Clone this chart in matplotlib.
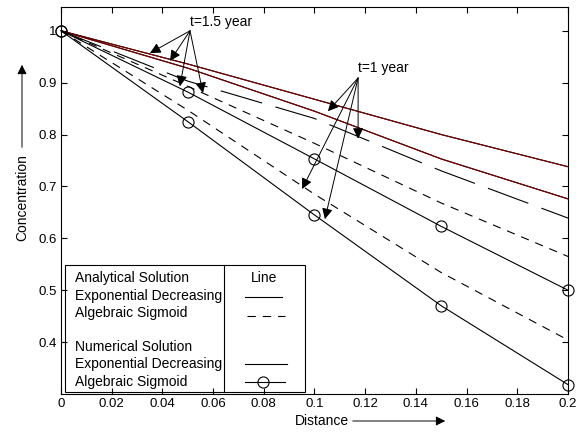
import matplotlib.pyplot as plt
from matplotlib.patches import Rectangle, FancyArrowPatch

plt.rcParams['font.family'] = ['Liberation Sans', 'DejaVu Sans']
plt.rcParams['lines.scale_dashes'] = False

# values at x = 0, 0.05, 0.1, 0.15, 0.2
distance = [0.0, 0.05, 0.10, 0.15, 0.20]
exp_analytic_a = [1.0, 0.936, 0.868, 0.800, 0.738]
exp_analytic_b = [1.0, 0.928, 0.845, 0.753, 0.676]
long_dash = [1.0, 0.903, 0.831, 0.730, 0.639]
sig_analytic_a = [1.0, 0.893, 0.783, 0.668, 0.565]
sig_numeric_a = [1.0, 0.882, 0.753, 0.623, 0.500]
sig_analytic_b = [1.0, 0.847, 0.685, 0.534, 0.404]
sig_numeric_b = [1.0, 0.825, 0.645, 0.470, 0.318]

xticks = [0, 0.02, 0.04, 0.06, 0.08, 0.1, 0.12, 0.14, 0.16, 0.18, 0.2]
xticklabels = ['0', '0.02', '0.04', '0.06', '0.08', '0.1', '0.12', '0.14', '0.16', '0.18', '0.2']
yticks = [0.4, 0.5, 0.6, 0.7, 0.8, 0.9, 1.0]
yticklabels = ['0.4', '0.5', '0.6', '0.7', '0.8', '0.9', '1']

fs = 10
fig = plt.figure(figsize=(5.83, 4.32), dpi=100)
ax = fig.add_axes([0.1046, 0.088, 0.8697, 0.896])

red = '#7a0000'
lw = 0.8
ax.plot(distance, exp_analytic_a, color='k', lw=lw)
ax.plot(distance, exp_analytic_a, color=red, lw=lw)
ax.plot(distance, exp_analytic_b, color='k', lw=lw)
ax.plot(distance, exp_analytic_b, color=red, lw=lw)
ax.plot(distance, long_dash, color='k', lw=lw, dashes=(31, 10))
ax.plot(distance, sig_analytic_a, color='k', lw=lw, dashes=(6, 5))
ax.plot(distance, sig_analytic_b, color='k', lw=lw, dashes=(6, 5))
for ys in (sig_numeric_a, sig_numeric_b):
    ax.plot(distance, ys, color='k', lw=lw, marker='o', ms=8,
            mfc='none', mec='k', mew=0.8, clip_on=False)

ax.set_xlim(0, 0.2)
ax.set_ylim(0.3, 1.046)
ax.set_xticks(xticks)
ax.set_xticklabels(xticklabels)
ax.set_yticks(yticks)
ax.set_yticklabels(yticklabels)
ax.tick_params(direction='in', top=True, right=True, length=4, labelsize=9.5, pad=3)
for s in ax.spines.values():
    s.set_linewidth(0.8)

# arrows pointing at the curves
ap = dict(arrowstyle='-|>', mutation_scale=16, lw=0.7, color='k',
          shrinkA=0, shrinkB=0)
ax.text(0.0509, 1.017, 't=1.5 year', fontsize=fs, va='center', ha='left')
for hx, hy in [(0.0351, 0.957), (0.0430, 0.942), (0.0469, 0.893), (0.0560, 0.880)]:
    ax.annotate('', xy=(hx, hy), xytext=(0.0509, 1.000), arrowprops=ap)
ax.text(0.1172, 0.928, 't=1 year', fontsize=fs, va='center', ha='left')
for hx, hy in [(0.1053, 0.845), (0.1172, 0.792), (0.0951, 0.695), (0.1041, 0.637)]:
    ax.annotate('', xy=(hx, hy), xytext=(0.1172, 0.909), arrowprops=ap)

# table-style legend
tr = ax.transAxes
def fx(px):
    return (px - 61) / 507.0
def fy(py):
    return (394 - py) / 387.0

ax.add_patch(Rectangle((fx(65), fy(392)), fx(305) - fx(65), fy(265) - fy(392),
                       transform=tr, fill=False, lw=0.8, ec='k', zorder=5))
ax.plot([fx(224), fx(224)], [fy(392), fy(265)], transform=tr, color='k', lw=0.8, zorder=5)
rows = [(278, 'Analytical Solution'), (296, 'Exponential Decreasing'),
        (313, 'Algebraic Sigmoid'), (347, 'Numerical Solution'),
        (364, 'Exponential Decreasing'), (382, 'Algebraic Sigmoid')]
for py, label in rows:
    ax.text(fx(75), fy(py), label, transform=tr, fontsize=fs, va='center', ha='left')
ax.text(fx(264), fy(278), 'Line', transform=tr, fontsize=fs, va='center', ha='center')
ax.plot([fx(245), fx(282)], [fy(297), fy(297)], transform=tr, color='k', lw=lw)
ax.plot([fx(247), fx(285)], [fy(316), fy(316)], transform=tr, color='k', lw=lw, dashes=(6, 5))
ax.plot([fx(245), fx(287)], [fy(364), fy(364)], transform=tr, color='k', lw=lw)
ax.plot([fx(245), fx(285)], [fy(382), fy(382)], transform=tr, color='k', lw=lw)
ax.plot([fx(263)], [fy(382)], transform=tr, marker='o', ms=8, mfc='none', mec='k', mew=0.8)

# axis labels with arrows
fig.text(322 / 583, 1 - 421 / 432, 'Distance', fontsize=fs, ha='center', va='center')
fig.add_artist(FancyArrowPatch(
    (350 / 583, 1 - 421 / 432), (448 / 583, 1 - 421 / 432), transform=fig.transFigure,
    arrowstyle='-|>', mutation_scale=14, lw=0.7, color='k'))
fig.text(22 / 583, 1 - 198 / 432, 'Concentration', fontsize=fs, rotation=90,
         ha='center', va='center')
fig.add_artist(FancyArrowPatch(
    (22 / 583, 1 - 150 / 432), (22 / 583, 1 - 62 / 432), transform=fig.transFigure,
    arrowstyle='-|>', mutation_scale=14, lw=0.7, color='k'))

fig.savefig('out.png', dpi=100)
